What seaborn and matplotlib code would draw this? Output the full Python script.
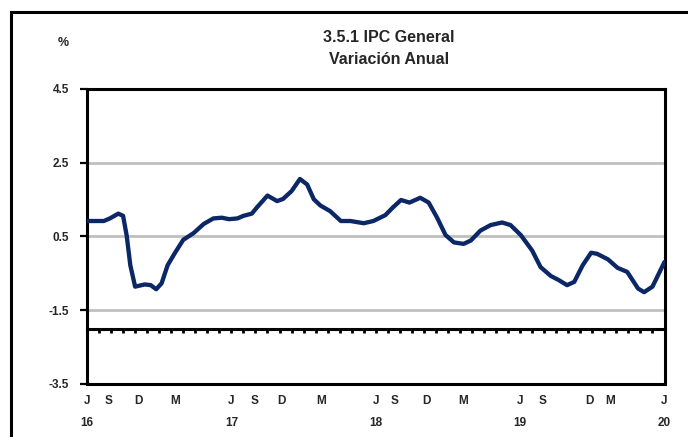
import numpy as np
import matplotlib
matplotlib.use("Agg")
import matplotlib.pyplot as plt
import matplotlib.patches as patches
import seaborn as sns

# series (x = months since J16)
months = [0, 1.4, 1.9, 2.6, 3.0, 3.3, 3.6, 4.0, 4.8, 5.3, 5.75, 6.2, 6.7, 7.3, 8.0,
          8.85, 9.7, 10.5, 11.2, 11.8, 12.5, 13.0, 13.7, 14.1, 15.0, 15.8, 16.3,
          17.0, 17.7, 18.3, 18.85, 19.4, 20.2, 21.1, 21.9, 23.0, 23.8, 24.8, 25.4,
          26.1, 26.8, 27.7, 28.4, 29.1, 29.8, 30.5, 31.3, 31.9, 32.7, 33.55, 34.5,
          35.2, 36.05, 37.0, 37.7, 38.55, 39.2, 39.9, 40.5, 41.2, 41.9, 42.4, 43.3,
          44.1, 44.9, 45.8, 46.3, 47.0, 48.0]
ipc = [0.92, 0.92, 0.99, 1.12, 1.06, 0.52, -0.28, -0.86, -0.80, -0.82, -0.93, -0.77,
       -0.28, 0.05, 0.41, 0.59, 0.84, 0.99, 1.01, 0.97, 0.99, 1.06, 1.12, 1.28, 1.61,
       1.46, 1.52, 1.73, 2.06, 1.91, 1.51, 1.34, 1.19, 0.92, 0.92, 0.86, 0.92, 1.08,
       1.28, 1.49, 1.42, 1.55, 1.42, 1.01, 0.54, 0.34, 0.30, 0.39, 0.66, 0.81, 0.88,
       0.81, 0.54, 0.12, -0.33, -0.57, -0.68, -0.82, -0.73, -0.28, 0.06, 0.03, -0.12,
       -0.35, -0.46, -0.91, -1.01, -0.86, -0.19]

month_pos = [0, 1.8, 4.3, 7.35, 12, 13.95, 16.2, 19.5, 24, 25.6, 28.2, 31.3,
             36, 37.9, 41.75, 43.45, 48]
month_lbl = ["J", "S", "D", "M", "J", "S", "D", "M", "J", "S", "D", "M",
             "J", "S", "D", "M", "J"]
year_pos = [0, 12, 24, 36, 48]
year_lbl = ["16", "17", "18", "19", "20"]
y_ticks = [-3.5, -1.5, 0.5, 2.5, 4.5]

sns.set_style("white")
plt.rcParams['font.family'] = ['Liberation Sans', 'DejaVu Sans']

fig = plt.figure(figsize=(6.88, 4.37), dpi=100)
ax = fig.add_axes([87/688, 1 - 384/437, (664.5 - 87)/688, (384 - 89)/437])

for g in [-1.5, 0.5, 2.5]:
    ax.axhline(g, color="#c0c0c0", lw=2.0, zorder=1)

sns.lineplot(x=months, y=ipc, sort=False, estimator=None, color="#0c2766",
             lw=3.1, ax=ax, zorder=3)
ax.lines[-1].set_solid_joinstyle("round")
ax.lines[-1].set_solid_capstyle("round")

ax.set_xlim(0, 48)
ax.set_ylim(-3.5, 4.5)

# category axis crossing at -2 with monthly ticks
ax.spines["bottom"].set_position(("data", -2.0))
ax.set_xticks(range(0, 49))
ax.tick_params(axis="x", bottom=True, direction="out", length=3, width=2,
               color="black", labelbottom=False)
ax.axhline(-3.5, color="black", lw=2.2, clip_on=False, zorder=4)

ax.set_yticks(y_ticks)
ax.set_yticklabels([f"{v:.1f}" for v in y_ticks], fontsize=8.5, fontweight="bold")
ax.tick_params(axis="y", left=True, direction="out", length=5, width=1.6,
               color="black", pad=8)
for s in ["left", "right", "top", "bottom"]:
    ax.spines[s].set_color("black")
    ax.spines[s].set_linewidth(2.2)
ax.set_xlabel("")
ax.set_ylabel("")

sec = ax.secondary_xaxis(0)
sec.set_xticks(month_pos, month_lbl)
sec.tick_params(length=0, pad=8, labelsize=8.5)
for t in sec.get_xticklabels():
    t.set_fontweight("bold")
sec.spines["bottom"].set_visible(False)

sec2 = ax.secondary_xaxis(0)
sec2.set_xticks(year_pos, year_lbl)
sec2.tick_params(length=0, pad=24, labelsize=8.5)
for t in sec2.get_xticklabels():
    t.set_fontweight("bold")
sec2.spines["bottom"].set_visible(False)

fig.text(0.565, 1 - 37/437, "3.5.1 IPC General", ha="center", va="center",
         fontsize=11.5, fontweight="bold")
fig.text(0.565, 1 - 60/437, "Variación Anual", ha="center", va="center",
         fontsize=11.5, fontweight="bold")
fig.text(63/688, 1 - 43/437, "%", ha="center", va="center", fontsize=9,
         fontweight="bold")

fig.add_artist(patches.Rectangle((11/688, -0.2), 1.5, 1.2 - 12/437, fill=False,
                                 lw=2.2, edgecolor="black",
                                 transform=fig.transFigure))

fig.savefig("out.png", dpi=100)
